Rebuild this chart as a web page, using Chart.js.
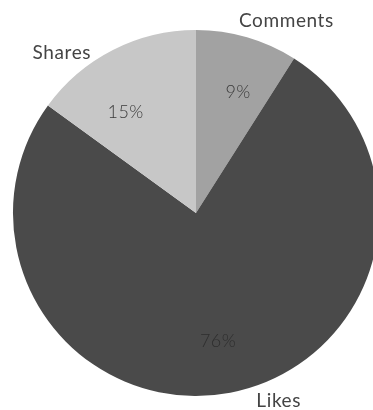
<!DOCTYPE html>
<html>
<head>
<meta charset="utf-8">
<script src="https://cdn.jsdelivr.net/npm/chart.js@4"></script>
<style>
    html, body { margin: 0; padding: 0; background: #ffffff; overflow: hidden; }
    #wrap { width: 392px; height: 410px; }
</style>
</head>
<body>
<div id="wrap"><canvas id="engagementChart"></canvas></div>
<script>
const categories = ["Comments", "Likes", "Shares"];
const shares = [9, 76, 15];
const sliceColors = ["#a2a2a2", "#4a4a4a", "#c7c7c7"];

const FONT = "Lato";

// Percent labels inside each slice, names outside the rim
const sliceLabels = {
    id: "sliceLabels",
    afterDatasetsDraw(chart) {
        const ctx = chart.ctx;
        const arcs = chart.getDatasetMeta(0).data;
        // nudges (degrees) so outside names sit clear of neighbours
        const nameShift = [9, -13, -13];
        const nameRadius = [1.16, 1.12, 1.14];
        const pctShift = [3, 1, -8];
        const pctRadius = [0.7, 0.71, 0.67];

        ctx.save();
        ctx.textAlign = "center";
        ctx.textBaseline = "middle";
        arcs.forEach((arc, i) => {
            const { x, y, startAngle, endAngle, outerRadius } = arc.getProps(["x", "y", "startAngle", "endAngle", "outerRadius"], true);
            const mid = (startAngle + endAngle) / 2;

            const a1 = mid + pctShift[i] * Math.PI / 180;
            ctx.font = "300 18px " + FONT;
            ctx.letterSpacing = "0.5px";
            ctx.fillStyle = i === 1 ? "#2e2e2e" : "#3a3a3a";
            ctx.fillText(shares[i] + "%", x + Math.cos(a1) * outerRadius * pctRadius[i], y + Math.sin(a1) * outerRadius * pctRadius[i]);

            const a2 = mid + nameShift[i] * Math.PI / 180;
            ctx.font = "19px " + FONT;
            ctx.letterSpacing = "0.6px";
            ctx.fillStyle = "#444444";
            ctx.fillText(categories[i], x + Math.cos(a2) * outerRadius * nameRadius[i], y + Math.sin(a2) * outerRadius * nameRadius[i]);
        });
        ctx.restore();
    }
};

new Chart(document.getElementById("engagementChart"), {
    type: "pie",
    data: {
        labels: categories,
        datasets: [{
            data: shares,
            backgroundColor: sliceColors,
            borderWidth: 0
        }]
    },
    options: {
        responsive: true,
        maintainAspectRatio: false,
        animation: false,
        layout: { padding: { top: 30, bottom: 14, left: 13, right: 13 } },
        plugins: {
            legend: { display: false },
            tooltip: { enabled: false }
        }
    },
    plugins: [sliceLabels]
});
</script>
</body>
</html>
